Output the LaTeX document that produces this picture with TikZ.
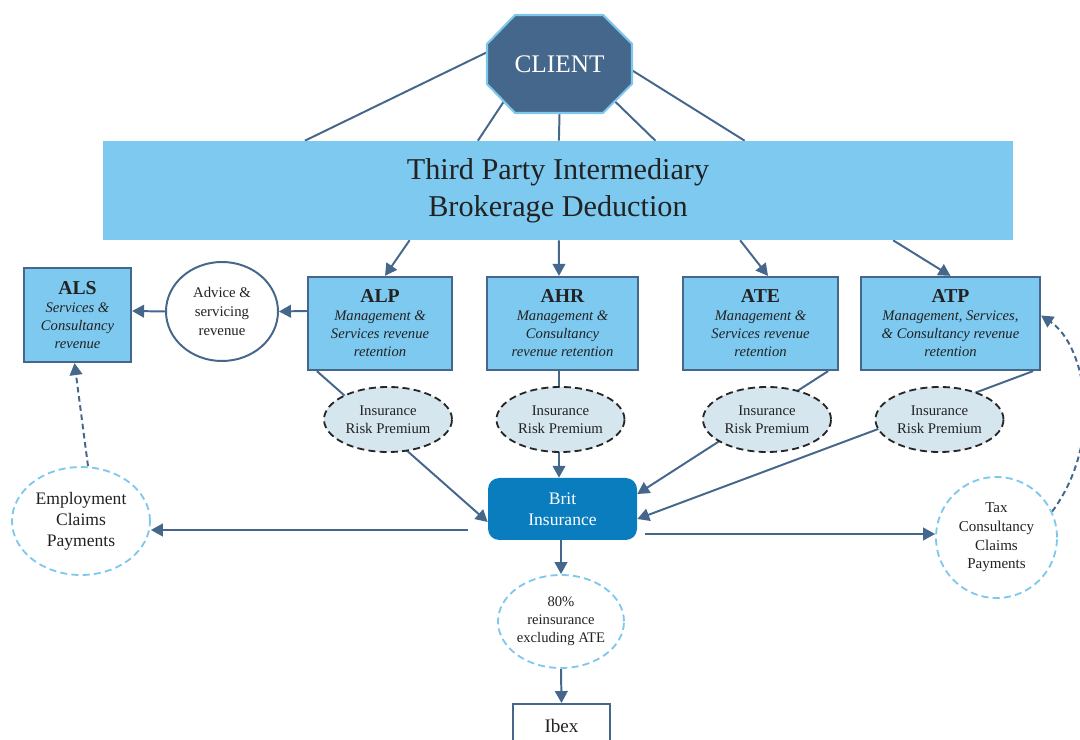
\documentclass[tikz,border=0pt]{standalone}
\usepackage{fontspec}
\setmainfont{Liberation Serif}
\usepackage{tikz}
\usetikzlibrary{positioning}
\usetikzlibrary{calc}
\usetikzlibrary{shapes.geometric}
\usetikzlibrary{arrows.meta}
\usetikzlibrary{backgrounds}
\definecolor{slate}{RGB}{70,103,140}
\definecolor{skyfill}{RGB}{125,201,240}
\definecolor{skyline}{RGB}{126,200,238}
\definecolor{mistfill}{RGB}{214,230,239}
\definecolor{britblue}{RGB}{10,125,191}
\definecolor{inkgray}{RGB}{34,34,34}
\newcommand{\px}{0.025cm}
\newcommand{\unittitle}[1]{{\fontsize{14}{17}\selectfont\bfseries #1}}

\tikzset{
	link/.style={draw=slate, line width=1.4pt},
	arrowlink/.style={link, -{Triangle[length=8.5pt,width=9pt]}},
	dashlink/.style={arrowlink, dash pattern=on 4pt off 2.6pt},
	unitbox/.style={rectangle, draw=slate, line width=1.6pt, fill=skyfill, text=inkgray, align=center, inner sep=0pt, minimum height=93*\px, font=\fontsize{10.4}{12.8}\selectfont},
	premium/.style={ellipse, draw=black!85, line width=1.3pt, dash pattern=on 5pt off 3pt, fill=mistfill, text=inkgray, align=center, inner sep=0pt, minimum width=128*\px, minimum height=65*\px, font=\fontsize{10.5}{12.8}\selectfont},
	claim/.style={ellipse, draw=skyline, line width=1.3pt, dash pattern=on 5pt off 3pt, fill=white, text=inkgray, align=center, inner sep=0pt},
}

\begin{document}
\begin{tikzpicture}[x=0.025cm, y=-0.025cm]
	\useasboundingbox (0,0) rectangle (1080,740);
	
	% client octagon
	\draw[line width=1.5pt, draw=skyline, fill=slate] (515,15) -- (603,15) -- (632,44) -- (632,84) -- (603,113) -- (515,113) -- (487,84) -- (487,44) -- cycle;
	\node[text=white, font=\fontsize{18}{20}\selectfont] (client) at (559.5,64) {CLIENT};
	
	\node[rectangle, fill=skyfill, text=inkgray, align=center, minimum width=910*\px, minimum height=99*\px, font=\fontsize{21.5}{26}\selectfont] (bar) at (558,190.5) {Third Party Intermediary\\Brokerage Deduction};
	
	% units
	\node[unitbox, minimum width=107*\px, minimum height=94*\px] (als) at (77.5,315) {\unittitle{ALS}\\\textit{Services \&}\\\textit{Consultancy}\\\textit{revenue}};
	\node[unitbox, minimum width=144*\px] (alp) at (380,323.5) {\unittitle{ALP}\\\textit{Management \&}\\\textit{Services revenue}\\\textit{retention}};
	\node[unitbox, minimum width=151*\px] (ahr) at (562.5,323.5) {\unittitle{AHR}\\\textit{Management \&}\\\textit{Consultancy}\\\textit{revenue retention}};
	\node[unitbox, minimum width=155*\px] (ate) at (760.5,323.5) {\unittitle{ATE}\\\textit{Management \&}\\\textit{Services revenue}\\\textit{retention}};
	\node[unitbox, minimum width=179*\px] (atp) at (950.5,323.5) {\unittitle{ATP}\\\textit{Management, Services,}\\\textit{\& Consultancy revenue}\\\textit{retention}};
	
	\node[ellipse, draw=slate, line width=1.4pt, fill=white, text=inkgray, align=center, inner sep=0pt, minimum width=112*\px, minimum height=99*\px, font=\fontsize{10.5}{13.3}\selectfont] (advice) at (222,311.5) {Advice \&\\servicing\\revenue};
	
	% premiums
	\node[premium] (alprisk) at (388,419.5) {Insurance\\Risk Premium};
	\node[premium] (ahrrisk) at (560.5,419.5) {Insurance\\Risk Premium};
	\node[premium] (aterisk) at (767,419.5) {Insurance\\Risk Premium};
	\node[premium] (atprisk) at (939.5,419.5) {Insurance\\Risk Premium};
	
	\node[rectangle, rounded corners=8pt, fill=britblue, text=white, align=center, minimum width=149*\px, minimum height=62*\px, font=\fontsize{12.5}{15}\selectfont] (brit) at (562.5,509) {Brit\\Insurance};
	
	% claims
	\node[claim, minimum width=138*\px, minimum height=108*\px, font=\fontsize{12.5}{15}\selectfont] (emp) at (81,521) {Employment\\Claims\\Payments};
	\node[claim, minimum width=121*\px, minimum height=121*\px, font=\fontsize{10.7}{13.3}\selectfont] (tax) at (996.5,537.5) {Tax\\Consultancy\\Claims\\Payments};
	\node[claim, minimum width=126*\px, minimum height=93*\px, font=\fontsize{10.4}{12.8}\selectfont] (reins) at (561,621.5) {80\%\\reinsurance\\excluding ATE};
	
	\node[rectangle, draw=slate, line width=1.4pt, fill=white, text=inkgray, minimum width=97*\px, minimum height=44*\px, font=\fontsize{13.6}{16}\selectfont] (ibex) at (561.5,726) {Ibex};
	
	\coordinate (empfeed) at ([shift={(-20,21)}]brit.west);
	\coordinate (taxfeed) at ([shift={(8,25)}]brit.east);
	
	\begin{scope}[on background layer]
		% client to bar
		\draw[link] ([shift={(-72,-12)}]client.center) -- ($(bar.north west)!0.222!(bar.north east)$);
		\draw[link] ([shift={(-56,38)}]client.center) -- ($(bar.north west)!0.412!(bar.north east)$);
		\draw[link] ([shift={(0,50)}]client.center) -- ($(bar.north west)!0.501!(bar.north east)$);
		\draw[link] ([shift={(54,36)}]client.center) -- ($(bar.north west)!0.607!(bar.north east)$);
		\draw[link] ([shift={(72,6)}]client.center) -- ($(bar.north west)!0.705!(bar.north east)$);
		
		% bar to units
		\draw[arrowlink] ($(bar.south west)!0.337!(bar.south east)$) -- ([xshift=5*\px]alp.north);
		\draw[arrowlink] ($(bar.south west)!0.501!(bar.south east)$) -- ([xshift=-3.5*\px]ahr.north);
		\draw[arrowlink] ($(bar.south west)!0.700!(bar.south east)$) -- ([xshift=7.5*\px]ate.north);
		\draw[arrowlink] ($(bar.south west)!0.868!(bar.south east)$) -- (atp.north);
		
		\draw[arrowlink] ([yshift=12.5*\px]alp.west) -- (advice.east);
		\draw[arrowlink] (advice.west) -- ([yshift=4*\px]als.east);
		
		% premiums to brit
		\draw[arrowlink] ([xshift=10*\px]alp.south west) -- ([yshift=-13*\px]brit.west);
		\draw[arrowlink] ([xshift=-3.5*\px]ahr.south) -- ([xshift=-3.5*\px]brit.north);
		\draw[arrowlink] ([xshift=-11*\px]ate.south east) -- ([yshift=15*\px]brit.east);
		\draw[arrowlink] ([xshift=-8*\px]atp.south east) -- ([yshift=-10*\px]brit.east);
		
		% brit outflows
		\draw[arrowlink] (empfeed) -- (empfeed -| emp.east);
		\draw[arrowlink] (taxfeed) -- (taxfeed -| tax.west);
		\draw[arrowlink] ([xshift=-1.5*\px]brit.south) -- (reins.north);
		\draw[arrowlink] (reins.south) -- (ibex.north);
		
		\draw[dashlink] ([xshift=7*\px]emp.north) -- ([xshift=-3*\px]als.south);
		\draw[dashlink] (tax.25) .. controls (1105,440) and (1085,345) .. ([yshift=8*\px]atp.east);
	\end{scope}
\end{tikzpicture}
\end{document}
